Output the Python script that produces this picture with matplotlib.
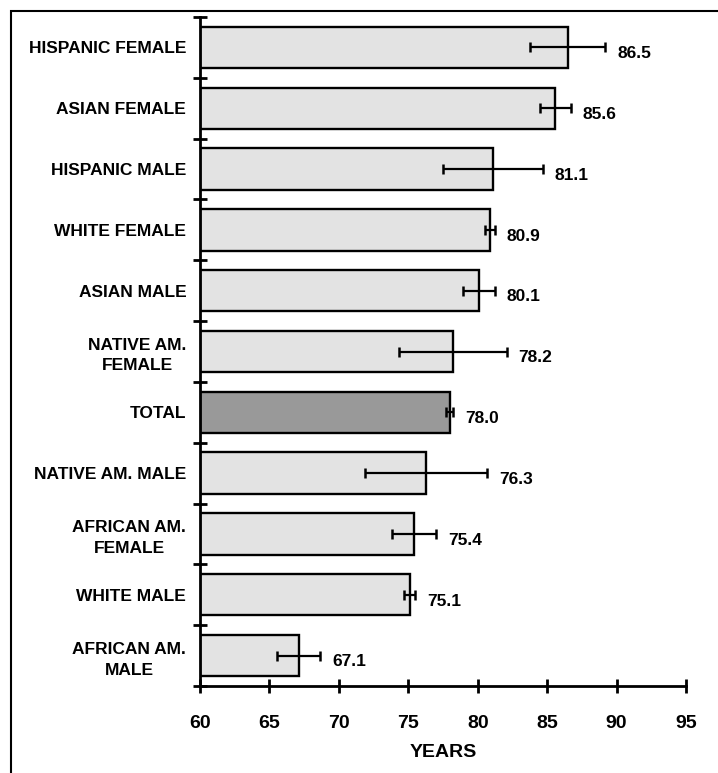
import matplotlib.pyplot as plt
from matplotlib.patches import Rectangle

plt.rcParams["font.family"] = ["Liberation Sans", "DejaVu Sans"]
plt.rcParams["font.weight"] = "bold"

groups = [
    "HISPANIC FEMALE", "ASIAN FEMALE", "HISPANIC MALE", "WHITE FEMALE",
    "ASIAN MALE", "NATIVE AM.\nFEMALE", "TOTAL", "NATIVE AM. MALE",
    "AFRICAN AM.\nFEMALE", "WHITE MALE", "AFRICAN AM.\nMALE",
]
life_exp = [86.5, 85.6, 81.1, 80.9, 80.1, 78.2, 78.0, 76.3, 75.4, 75.1, 67.1]
ci_half = [2.7, 1.1, 3.6, 0.35, 1.15, 3.9, 0.25, 4.4, 1.6, 0.4, 1.55]
highlight = "TOTAL"

light, dark = "#e3e3e3", "#999999"
colors = [dark if g == highlight else light for g in groups]

fig = plt.figure(figsize=(7.18, 7.73), dpi=100)
ax = fig.add_axes([0.2786, 0.1125, 0.9554 - 0.2786, 0.978 - 0.1125])

ypos = list(range(len(groups)))
ax.barh(ypos, [v - 60 for v in life_exp], left=60, height=0.68,
        color=colors, edgecolor="black", linewidth=1.7, zorder=2)
ax.errorbar(life_exp, ypos, xerr=ci_half, fmt="none", ecolor="black",
            elinewidth=1.6, capsize=3.5, capthick=1.8, zorder=3)

for y, v, e in zip(ypos, life_exp, ci_half):
    ax.annotate(f"{v:.1f}", xy=(v + e, y), xytext=(8.5, -4.5),
                textcoords="offset points", ha="left", va="center",
                fontsize=12.5, fontweight="bold")

ax.set_xlim(60, 95)
ax.set_ylim(len(groups) - 0.5, -0.5)
ax.set_xticks(range(60, 96, 5))
ax.set_yticks(ypos)
ax.set_yticklabels(groups, fontsize=12.5, fontweight="bold",
                   multialignment="center", linespacing=1.45)
ax.set_yticks([i - 0.5 for i in range(len(groups) + 1)], minor=True)

ax.tick_params(axis="y", which="major", length=0, pad=10)
ax.tick_params(axis="y", which="minor", direction="inout", length=10, width=2)
ax.tick_params(axis="x", which="major", direction="inout", length=10, width=2,
               pad=15.5, labelsize=14)
for lab in ax.get_xticklabels():
    lab.set_fontweight("bold")

ax.set_xlabel("YEARS", fontsize=14, fontweight="bold", labelpad=9)

for side in ("top", "right"):
    ax.spines[side].set_visible(False)
for side in ("left", "bottom"):
    ax.spines[side].set_linewidth(2)

# outer frame, open at the right and bottom edges
fig.add_artist(Rectangle((11 / 718, -0.2), 2.0, 1.2 - 11 / 773,
                         transform=fig.transFigure, fill=False,
                         edgecolor="black", linewidth=1.5, clip_on=False))

fig.savefig("out.png", dpi=100)
